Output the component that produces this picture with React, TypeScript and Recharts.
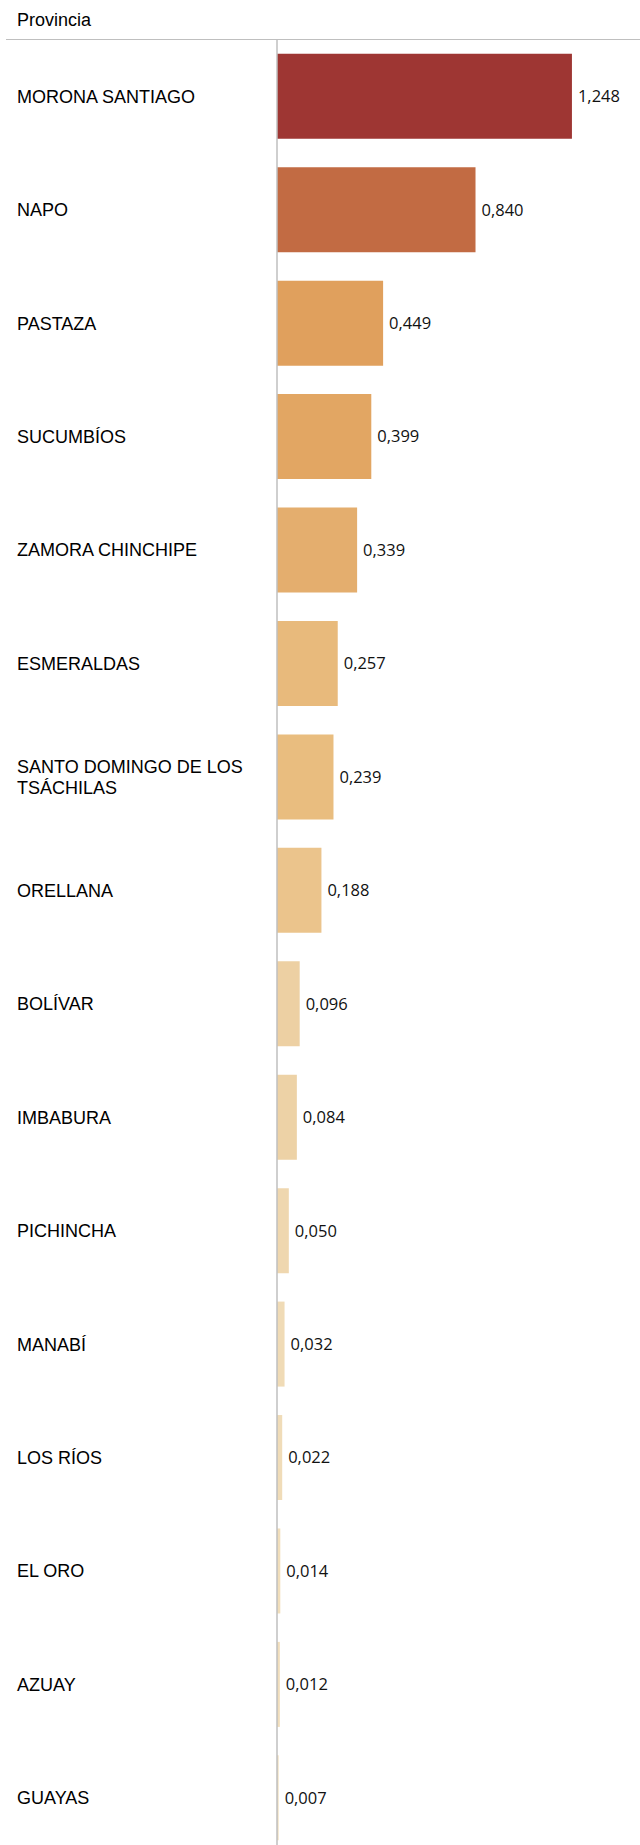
import React from 'react';
import { BarChart, Bar, XAxis, YAxis, Cell, LabelList } from 'recharts';

const provinces = [
  'MORONA SANTIAGO',
  'NAPO',
  'PASTAZA',
  'SUCUMBÍOS',
  'ZAMORA CHINCHIPE',
  'ESMERALDAS',
  'SANTO DOMINGO DE LOS TSÁCHILAS',
  'ORELLANA',
  'BOLÍVAR',
  'IMBABURA',
  'PICHINCHA',
  'MANABÍ',
  'LOS RÍOS',
  'EL ORO',
  'AZUAY',
  'GUAYAS',
];

const values = [
  1.248, 0.84, 0.449, 0.399, 0.339, 0.257, 0.239, 0.188,
  0.096, 0.084, 0.05, 0.032, 0.022, 0.014, 0.012, 0.007,
];

// sequential palette, darkest for the largest value
const barColors = [
  '#9E3633', '#C26B43', '#E0A05D', '#E2A663', '#E4AE6E', '#E8BA7C',
  '#E9BD7F', '#EBC48C', '#EDD0A3', '#EDD2A6', '#EFD7AF', '#F0DBB6',
  '#F0DCB8', '#F1DEBB', '#F1DEBC', '#F2E0BF',
];

const chartData = provinces.map((name, i) => ({ name, value: values[i] }));

const formatValue = (v: number) => v.toFixed(3).replace('.', ',');

// greedy word wrap for long province names
const wrapLabel = (label: string, maxChars = 20) => {
  const lines: string[] = [];
  let current = '';
  label.split(' ').forEach((word) => {
    const next = current ? current + ' ' + word : word;
    if (next.length > maxChars && current) {
      lines.push(current);
      current = word;
    } else {
      current = next;
    }
  });
  if (current) lines.push(current);
  return lines;
};

const ProvinceTick = (props: any) => {
  const { y, payload } = props;
  const lines = wrapLabel(String(payload.value));
  const lineHeight = 21.5;
  const startY = y - ((lines.length - 1) * lineHeight) / 2;
  return (
    <text
      x={17}
      y={startY}
      fill="#000"
      fontSize={18}
      fontFamily="'Liberation Sans', Arial, sans-serif"
      textAnchor="start"
    >
      {lines.map((line, i) => (
        <tspan key={i} x={17} y={startY + i * lineHeight} dy="0.355em">
          {line}
        </tspan>
      ))}
    </text>
  );
};

export default function App() {
  return (
    <div
      style={{
        position: 'absolute',
        top: 0,
        left: 0,
        width: 640,
        height: 1845,
        background: '#fff',
        overflow: 'hidden',
      }}
    >
      <div
        style={{
          position: 'absolute',
          left: 17,
          top: 10,
          fontSize: 18,
          lineHeight: '20px',
          fontFamily: "'Liberation Sans', Arial, sans-serif",
          color: '#000',
        }}
      >
        Provincia
      </div>
      <div
        style={{
          position: 'absolute',
          left: 6,
          top: 38.5,
          width: 634,
          height: 1.5,
          background: '#BFBFBF',
        }}
      />
      <BarChart
        width={640}
        height={1845}
        data={chartData}
        layout="vertical"
        margin={{ top: 39.6, right: 0, left: 0, bottom: -9.6 }}
        barCategoryGap="12.5%"
      >
        <XAxis type="number" domain={[0, 1.536]} hide />
        <YAxis
          type="category"
          dataKey="name"
          width={277}
          tick={<ProvinceTick />}
          tickLine={false}
          axisLine={{ stroke: '#BFBFBF', strokeWidth: 1.5 }}
          interval={0}
        />
        <Bar dataKey="value" isAnimationActive={false}>
          {chartData.map((d, i) => (
            <Cell key={d.name} fill={barColors[i]} />
          ))}
          <LabelList
            dataKey="value"
            position="right"
            offset={6}
            formatter={(v: any) => formatValue(Number(v))}
            style={{
              fill: '#111',
              fontSize: 16.5,
              fontFamily: "'Open Sans', sans-serif",
            }}
          />
        </Bar>
      </BarChart>
    </div>
  );
}
